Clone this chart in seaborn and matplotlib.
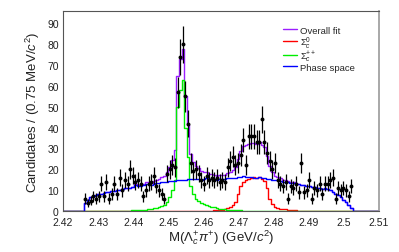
import numpy as np
import pandas as pd
import matplotlib
matplotlib.use("Agg")
import matplotlib.pyplot as plt
import seaborn as sns
from matplotlib.ticker import MultipleLocator, FuncFormatter
from matplotlib.lines import Line2D

# ---------------- data (0.75 MeV bins from 2.42 to 2.51) ----------------
x_min = 2.42
bin_width = 0.00075
n_bins = 120

data_start = 8
data_counts = [6, 4, 5, 7, 6, 7, 13, 7, 14, 6, 8, 13, 8, 16, 10, 15, 13, 20, 17, 14,
               15, 13, 7, 10, 13, 14, 17, 12, 10, 8, 6,
               18, 20, 22, 21, 57, 74, 80, 55, 42, 23,
               19, 20, 18, 15, 13, 17, 15, 16, 15, 16, 14, 15, 14,
               21, 24, 26, 22, 23, 27, 34, 22, 36, 36, 36, 33, 33, 44, 33, 28, 24, 20,
               23, 15, 13, 12, 14, 6, 12, 11, 13,
               9, 23, 9, 10, 15, 6, 11, 10, 13, 8, 13, 13, 15, 16, 6, 11, 10, 11, 10, 7, 12]

phase_start = 8
phase_space = [4, 5.5, 6.5, 7, 7.5, 8, 8, 8.5, 9, 9,
               9.5, 9.5, 10, 10, 10.5, 11, 11, 11, 11.5, 12.5,
               12, 12, 12.5, 13, 13, 12.5, 13, 13.5, 13.5, 14,
               14, 14, 14.5, 14.5, 14.5, 15, 15, 15, 15, 15.5,
               15.5, 15.5, 15.5, 15.5, 15, 15.5, 16, 15.5, 15.5, 15.5,
               15, 15.5, 15.5, 15.5, 16, 16, 16, 16, 16.5, 16.5,
               17, 16.5, 16.5, 16.5, 16, 16, 16.5, 16, 16, 15.5,
               15.5, 15, 15, 15, 14.5, 14, 14, 14, 13.5, 13.5,
               13, 13, 12.5, 12.5, 12, 12, 11.5, 11.5, 11, 11,
               10.5, 11, 10.5, 10, 9, 8, 7.5, 6.5, 5.5, 4.5,
               3, 1.5]

sigma_pp_start = 22
sigma_c_pp = [0.05, 0.1, 0.15, 0.2, 0.25, 0.3, 0.4, 0.5, 0.6, 0.7, 0.9, 1.1, 1.3, 1.6,
              1.9, 2.3, 3, 4.5, 6.5, 10, 15, 50, 58, 63, 40, 26, 12, 8, 6, 5, 4, 3.3,
              2.8, 2.3, 2, 1.7, 1.4, 1.2, 1, 0.8, 0.7, 0.6, 0.5, 0.4, 0.3, 0.25, 0.2,
              0.15, 0.1]

sigma_0_start = 55
sigma_c_0 = [0.1, 0.2, 0.3, 0.4, 0.5, 0.7, 1.0, 1.5, 2, 3, 4.5, 8, 12, 14, 15, 15.5,
             16, 16.5, 16, 16.5, 15.5, 14.5, 11, 6, 3.5, 2, 1.5, 1.2, 1, 0.8, 0.6,
             0.5, 0.4, 0.3, 0.2, 0.2, 0.1, 0.1]

x_ticks = [2.42, 2.43, 2.44, 2.45, 2.46, 2.47, 2.48, 2.49, 2.50, 2.51]
y_ticks = [0, 10, 20, 30, 40, 50, 60, 70, 80, 90]
legend_labels = ["Overall fit", r"$\Sigma_{c}^{0}$", r"$\Sigma_{c}^{++}$", "Phase space"]
colors = {"fit": "#9b1eff", "s0": "#ff0000", "spp": "#00ee00", "ps": "#0000ff"}

# ---------------- derived arrays ----------------
edges = x_min + bin_width * np.arange(n_bins + 1)
centers = edges[:-1] + bin_width / 2


def pad(vals, start):
    arr = np.zeros(n_bins)
    arr[start:start + len(vals)] = vals
    return arr


ps = pad(phase_space, phase_start)
spp = pad(sigma_c_pp, sigma_pp_start)
s0 = pad(sigma_c_0, sigma_0_start)
total = ps + spp + s0
counts = np.array(data_counts, dtype=float)
x_data = centers[data_start:data_start + len(counts)]

# ---------------- style ----------------
sns.set_style("white")
plt.rcParams["font.family"] = ["Liberation Sans", "DejaVu Sans"]
plt.rcParams["mathtext.fontset"] = "custom"
plt.rcParams["mathtext.rm"] = "Liberation Sans"
plt.rcParams["mathtext.it"] = "Liberation Sans:italic"
plt.rcParams["mathtext.bf"] = "Liberation Sans:bold"

fig = plt.figure(figsize=(3.99, 2.53), dpi=100)
ax = fig.add_axes([63 / 399, 41 / 253, 316 / 399, 200 / 253])


def draw_step(values, color):
    df = pd.DataFrame({"x": edges, "y": np.append(values, values[-1])})
    sns.lineplot(data=df, x="x", y="y", drawstyle="steps-post", color=color,
                 lw=1.0, ax=ax, estimator=None, sort=False)


draw_step(total, colors["fit"])
draw_step(s0, colors["s0"])
draw_step(spp, colors["spp"])
draw_step(ps, colors["ps"])

ax.errorbar(x_data, counts, yerr=np.sqrt(counts), fmt="none", ecolor="black",
            elinewidth=0.9, capsize=0, zorder=5)
sns.scatterplot(x=x_data, y=counts, color="black", s=8, linewidth=0, ax=ax, zorder=6)

ax.set_xlim(2.42, 2.51)
ax.set_ylim(0, 96)
ax.set_xticks(x_ticks)
ax.set_yticks(y_ticks)
ax.xaxis.set_minor_locator(MultipleLocator(0.002))
ax.yaxis.set_minor_locator(MultipleLocator(2))
ax.xaxis.set_major_formatter(FuncFormatter(lambda v, p: f"{round(v, 3):g}"))
ax.tick_params(which="major", direction="in", length=5, width=0.6, color="#888888",
               labelsize=7.5, pad=3, labelcolor="#222222")
ax.tick_params(axis="x", which="major", pad=4.5)
ax.tick_params(which="minor", direction="in", length=2.5, width=0.5, color="#888888")
ax.tick_params(top=False, right=False)

for side, sp in ax.spines.items():
    sp.set_linewidth(0.8)
    sp.set_color("#555555")
ax.spines["right"].set_color("#999999")
ax.spines["right"].set_linewidth(1.2)

ax.set_xlabel(r"M($\Lambda_{c}^{+}\pi^{+}$) (GeV/$c^{2}$)", fontsize=9.5, labelpad=0,
              color="#222222")
ax.set_ylabel(r"Candidates / (0.75 MeV/$c^{2}$)", fontsize=9.5, labelpad=4,
              color="#222222")

handles = [Line2D([], [], color=colors[k], lw=1.0) for k in ["fit", "s0", "spp", "ps"]]
fig.legend(handles, legend_labels, loc="upper left",
           bbox_to_anchor=(278 / 399, 1 - 22 / 253), frameon=False, fontsize=6.8,
           handlelength=1.5, handletextpad=0.3, labelspacing=-0.1, borderpad=0)

fig.savefig("out.png", dpi=100)
